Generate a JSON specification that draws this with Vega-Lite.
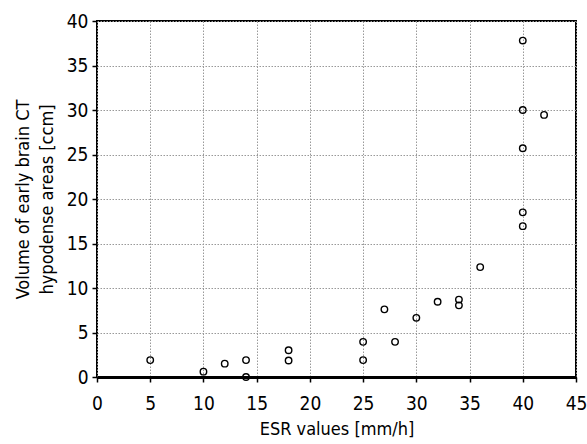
{
  "$schema": "https://vega.github.io/schema/vega-lite/v6.json",
  "autosize": {"type": "none"},
  "padding": {"left": 97, "top": 21, "right": 11, "bottom": 66},
  "width": 479,
  "height": 356,
  "background": "white",
  "config": {
    "font": "DejaVu Sans Condensed",
    "view": {"stroke": "black", "strokeWidth": 2},
    "axis": {
      "labelFont": "DejaVu Sans Condensed, Roboto",
      "titleFont": "DejaVu Sans Condensed, Roboto",
      "labelFontSize": 19,
      "titleFontSize": 18,
      "titleFontWeight": "normal",
      "labelColor": "black",
      "titleColor": "black",
      "tickColor": "black",
      "tickSize": 5,
      "tickWidth": 1.5,
      "gridColor": "#999999",
      "gridDash": [1.5, 1.5],
      "gridWidth": 1,
      "domain": false
    }
  },
  "data": {
    "values": [
      {"esr": 5, "vol": 1.9},
      {"esr": 10, "vol": 0.6},
      {"esr": 12, "vol": 1.5},
      {"esr": 14, "vol": 1.9},
      {"esr": 14, "vol": 0.0},
      {"esr": 18, "vol": 3.0},
      {"esr": 18, "vol": 1.85},
      {"esr": 25, "vol": 3.95},
      {"esr": 25, "vol": 1.9},
      {"esr": 27, "vol": 7.6},
      {"esr": 28, "vol": 3.95},
      {"esr": 30, "vol": 6.65},
      {"esr": 32, "vol": 8.45},
      {"esr": 34, "vol": 8.7},
      {"esr": 34, "vol": 8.05},
      {"esr": 36, "vol": 12.35},
      {"esr": 40, "vol": 37.8},
      {"esr": 40, "vol": 30.0},
      {"esr": 42, "vol": 29.45},
      {"esr": 40, "vol": 25.7},
      {"esr": 40, "vol": 18.5},
      {"esr": 40, "vol": 16.95}
    ]
  },
  "mark": {"type": "point", "shape": "circle", "filled": false, "color": "black", "size": 42, "strokeWidth": 1.4, "opacity": 1},
  "encoding": {
    "x": {
      "field": "esr",
      "type": "quantitative",
      "scale": {"domain": [0, 45], "nice": false, "zero": false},
      "axis": {
        "values": [0, 5, 10, 15, 20, 25, 30, 35, 40, 45],
        "title": "ESR values [mm/h]",
        "titlePadding": 7,
        "labelPadding": 12,
        "domain": true,
        "domainColor": "black",
        "domainWidth": 3,
        "labelFlush": false
      }
    },
    "y": {
      "field": "vol",
      "type": "quantitative",
      "scale": {"domain": [0, 40], "nice": false, "zero": false},
      "axis": {
        "values": [0, 5, 10, 15, 20, 25, 30, 35, 40],
        "title": ["Volume of early brain CT", "hypodense areas [ccm]"],
        "titlePadding": 10,
        "titleLineHeight": 24,
        "labelPadding": 4,
        "labelFlush": false
      }
    }
  }
}
